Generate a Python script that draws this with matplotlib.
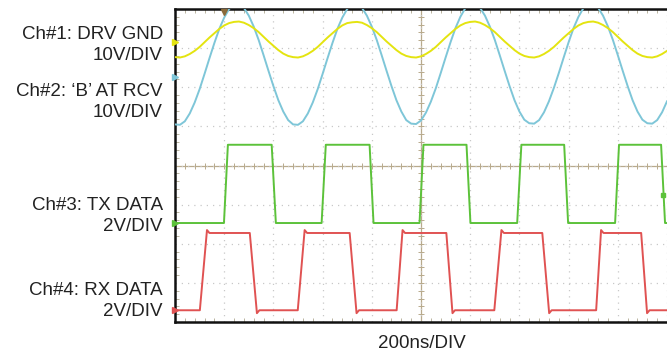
import numpy as np
import matplotlib
matplotlib.use("Agg")
import matplotlib.pyplot as plt

# time base in ns (200 ns/div, 10 divisions), sine traces sampled every 20 ns
sine_t = list(range(0, 2001, 20))

# Ch1 DRV GND (volts)
ch1_v = [-3.9, -4.0, -3.7, -3.1, -2.3, -1.3, -0.1, 1.1, 2.2, 3.3, 4.2, 4.8,
         5.1, 5.2, 4.9, 4.3, 3.5, 2.5, 1.3, 0.1, -1.0, -2.1, -3.0, -3.6,
         -3.9, -4.0, -3.7, -3.1, -2.3, -1.3, -0.1, 1.1, 2.2, 3.3, 4.2, 4.8,
         5.0, 5.1, 4.9, 4.3, 3.5, 2.5, 1.3, 0.1, -1.0, -2.1, -3.0, -3.6,
         -3.9, -4.0, -3.7, -3.1, -2.3, -1.3, -0.1, 1.1, 2.2, 3.3, 4.2, 4.8,
         5.1, 5.2, 4.9, 4.3, 3.5, 2.5, 1.3, 0.1, -1.0, -2.1, -3.0, -3.6,
         -3.9, -4.0, -3.7, -3.1, -2.3, -1.3, -0.1, 1.1, 2.2, 3.3, 4.2, 4.8,
         5.1, 5.2, 4.9, 4.3, 3.5, 2.5, 1.3, 0.1, -1.0, -2.1, -3.0, -3.6,
         -3.9, -4.0, -3.7, -3.1, -2.3]

# Ch2 'B' at RCV (volts)
ch2_v = [-12.1, -12.2, -11.3, -9.3, -6.5, -3.1, 0.8, 4.8, 8.7, 12.3, 15.2, 17.4,
         18.5, 18.6, 17.7, 15.7, 12.9, 9.5, 5.6, 1.6, -2.3, -5.9, -8.8, -11.0,
         -12.1, -12.2, -11.3, -9.3, -6.5, -3.1, 0.8, 4.8, 8.7, 12.3, 15.2, 17.4,
         18.5, 18.6, 17.7, 15.7, 12.9, 9.5, 5.6, 1.6, -2.3, -5.9, -8.8, -11.0,
         -11.9, -12.0, -11.1, -9.1, -6.3, -2.9, 1.0, 5.0, 8.9, 12.5, 15.4, 17.6,
         18.6, 18.7, 17.7, 15.7, 12.9, 9.5, 5.6, 1.6, -2.3, -5.9, -8.8, -10.9,
         -11.8, -11.9, -11.0, -9.0, -6.2, -2.8, 1.0, 5.0, 8.9, 12.5, 15.4, 17.6,
         18.6, 18.7, 17.7, 15.7, 12.9, 9.5, 5.6, 1.6, -2.3, -5.9, -8.8, -10.9,
         -11.8, -11.9, -11.0, -9.0, -6.2]

# Ch3 TX DATA (volts)
ch3_t = [0, 199, 215, 393, 410, 596, 613, 791, 807, 994, 1010, 1185, 1201,
         1391, 1408, 1582, 1598, 1789, 1805, 1976, 1992, 2000]
ch3_v = [0, 0, 4, 4, 0, 0, 4, 4, 0, 0, 4, 4, 0,
         0, 4, 4, 0, 0, 4, 4, 0, 0]

# Ch4 RX DATA (volts)
ch4_t = [0, 101, 130, 140, 304, 333, 343, 499, 527, 537, 710, 738, 748,
         901, 925, 935, 1103, 1128, 1138, 1298, 1327, 1337, 1493, 1521, 1531,
         1712, 1732, 1742, 1895, 1919, 1929, 2000]
ch4_v = [0, 0, 4.1, 3.95, 3.95, -0.15, 0, 0, 4.1, 3.95, 3.95, -0.15, 0,
         0, 4.1, 3.95, 3.95, -0.15, 0, 0, 4.1, 3.95, 3.95, -0.15, 0,
         0, 4.1, 3.95, 3.95, -0.15, 0, 0]

volts_per_div = [10, 10, 2, 2]
ground_div = [3.16, 2.26, -1.47, -3.70]
colors = ["#e4e410", "#7ec6d8", "#5cc23a", "#e05252"]
labels = ["Ch#1: DRV GND\n10V/DIV", "Ch#2: \u2018B\u2019 AT RCV\n10V/DIV",
          "Ch#3: TX DATA\n2V/DIV", "Ch#4: RX DATA\n2V/DIV"]

plt.rcParams['font.family'] = ['Liberation Sans', 'DejaVu Sans']

fig = plt.figure(figsize=(6.67, 3.59), dpi=100)
ax = fig.add_axes([175 / 667, 1 - 322 / 359, 1 - 175 / 667, 313 / 359])
ax.set_xlim(0, 2000)
ax.set_ylim(-4, 4)

# graticule
ax.set_xticks(np.arange(0, 2001, 200))
ax.set_yticks(np.arange(-4, 4.1, 1))
ax.set_xticks(np.arange(0, 2001, 40), minor=True)
ax.set_yticks(np.arange(-4, 4.01, 0.2), minor=True)
ax.grid(True, which="major", color="#c8c8c8", linestyle=(0, (1, 4)), linewidth=0.9)
ax.tick_params(which="both", direction="in", length=3, color="#b0a890",
               labelleft=False, labelbottom=False, top=True, right=False)
ax.tick_params(which="major", length=0)
ax.axhline(0, color="#b8aa8c", lw=0.9, zorder=1)
ax.axvline(1000, color="#b8aa8c", lw=0.9, zorder=1)
mt = np.arange(0, 2001, 40)
ax.plot(mt, np.zeros_like(mt), ls="none", marker="|", ms=4, color="#b8aa8c", mew=0.7)
my = np.arange(-4, 4.01, 0.2)
ax.plot(np.full_like(my, 1000), my, ls="none", marker="_", ms=4, color="#b8aa8c", mew=0.7)

for s in ["left", "top", "bottom"]:
    ax.spines[s].set_linewidth(1.8)
    ax.spines[s].set_color("#111111")
ax.spines["right"].set_visible(False)

# traces
traces = [(sine_t, ch1_v), (sine_t, ch2_v), (ch3_t, ch3_v), (ch4_t, ch4_v)]
for i in [1, 0, 2, 3]:
    t, v = traces[i]
    y = ground_div[i] + np.array(v) / volts_per_div[i]
    ax.plot(t, y, color=colors[i], lw=1.4, zorder=3)
    ax.plot(0, ground_div[i], marker=">", ms=5, color=colors[i], clip_on=False, zorder=4)

# trigger markers
ax.plot(200, 3.93, marker="v", ms=4, color="#8a6a3a", clip_on=False, zorder=4)
ax.plot(1985, -0.75, marker="s", ms=2.5, color=colors[2], zorder=4)

# channel labels
label_y = [1 - 45 / 359, 1 - 102 / 359, 1 - 216 / 359, 1 - 301 / 359]
for lab, yy in zip(labels, label_y):
    fig.text(163 / 667, yy, lab, ha="right", va="center", fontsize=13.5,
             color="#222222", linespacing=1.35)

fig.text(422 / 667, 1 - 343 / 359, "200ns/DIV", ha="center", va="center",
         fontsize=13.5, color="#222222")

fig.savefig("out.png", dpi=100)
